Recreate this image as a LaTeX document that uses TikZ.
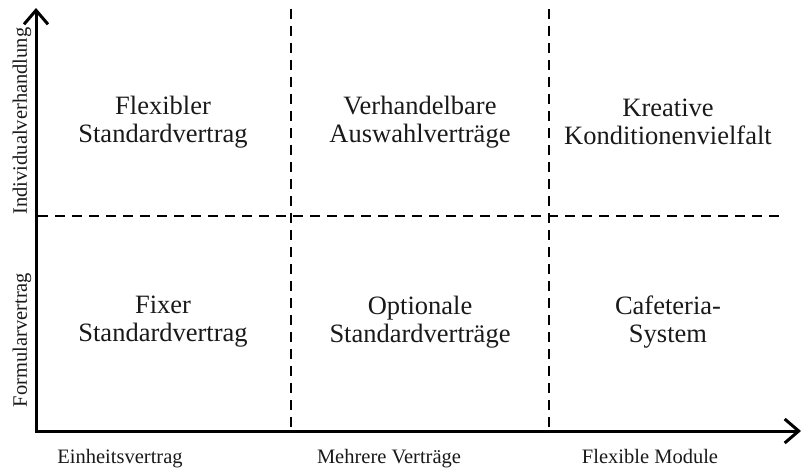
\documentclass[tikz,border=0pt]{standalone}
\usepackage{fontspec}
\setmainfont{Liberation Serif}
\newfontfamily\cellserif{Liberation Serif}
\usetikzlibrary{arrows.meta}
\tikzset{
  axisline/.style={line width=3pt, line join=miter,
    {Straight Barb[length=14pt,width=24pt,line width=3pt]}-{Straight Barb[length=14pt,width=24pt,line width=3pt]}},
  gridline/.style={line width=1.8pt, dash pattern=on 10pt off 7pt},
  celltext/.style={align=center, font=\cellserif\fontsize{26.5}{28}\selectfont, text=black!90},
  axislabel/.style={font=\cellserif\fontsize{20.5}{22}\selectfont, text=black!90, anchor=base},
}
\begin{document}
\begin{tikzpicture}[x=1pt,y=-1pt]
\useasboundingbox (0,0) rectangle (803,468);
% axes
\coordinate (origin) at (36,431);
\coordinate (ytip) at (36,8);
\coordinate (xtip) at (801,431);
\coordinate (vatop) at (291,9);
\coordinate (vabot) at (291,429);
\coordinate (vbtop) at (549,9);
\coordinate (vbbot) at (549,429);
\coordinate (hleft) at (38,216);
\coordinate (hright) at (786,216);
\draw[gridline] (vatop) -- (vabot);
\draw[gridline] (vbtop) -- (vbbot);
\draw[gridline] (hleft) -- (hright);
\draw[axisline] (ytip) -- (origin) -- (xtip);
% cells
\node[celltext] (c11) at (163,122) {Flexibler\\Standardvertrag};
\node[celltext] (c12) at (420,122) {Verhandelbare\\Auswahlverträge};
\node[celltext] (c13) at (668,122) {Kreative\\Konditionenvielfalt};
\node[celltext] (c21) at (163,322) {Fixer\\Standardvertrag};
\node[celltext] (c22) at (420,322) {Optionale\\Standardverträge};
\node[celltext] (c23) at (668,322) {Cafeteria-\\System};
% axis labels
\node[axislabel] (lx1) at (120,463) {Einheitsvertrag};
\node[axislabel] (lx2) at (389,463) {Mehrere Verträge};
\node[axislabel] (lx3) at (650,463) {Flexible Module};
\node[axislabel, rotate=90] (ly1) at (27,121) {Individualverhandlung};
\node[axislabel, rotate=90] (ly2) at (27,340) {Formularvertrag};
\end{tikzpicture}
\end{document}
